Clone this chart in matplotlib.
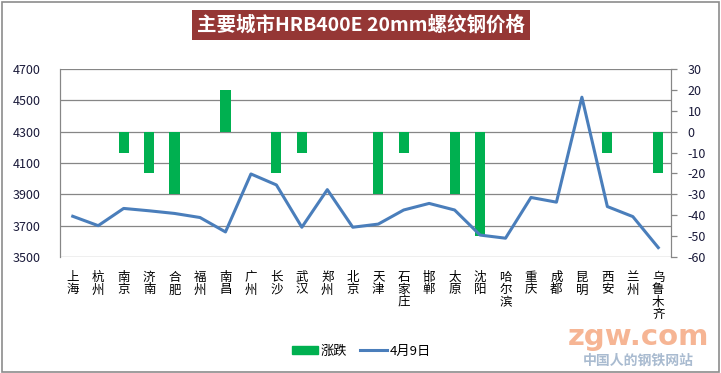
import matplotlib
matplotlib.use('Agg')
import matplotlib.pyplot as plt
from matplotlib.patches import Rectangle, Patch
from matplotlib.lines import Line2D

plt.rcParams['font.family'] = ['Noto Sans CJK SC', 'DejaVu Sans']
plt.rcParams['axes.unicode_minus'] = False

# 数据
cities = ['上海', '杭州', '南京', '济南', '合肥', '福州', '南昌', '广州', '长沙', '武汉',
          '郑州', '北京', '天津', '石家庄', '邯郸', '太原', '沈阳', '哈尔滨', '重庆', '成都',
          '昆明', '西安', '兰州', '乌鲁木齐']
change = [0, 0, -10, -20, -30, 0, 20, 0, -20, -10,
          0, 0, -30, -10, 0, -30, -50, 0, 0, 0,
          0, -10, 0, -20]
price = [3760, 3700, 3810, 3795, 3778, 3752, 3660, 4030, 3960, 3690,
         3930, 3690, 3710, 3800, 3842, 3800, 3640, 3620, 3880, 3850,
         4520, 3822, 3758, 3560]
left_ticks = [3500, 3700, 3900, 4100, 4300, 4500, 4700]
right_ticks = [-60, -50, -40, -30, -20, -10, 0, 10, 20, 30]

W, H = 721, 373
fig = plt.figure(figsize=(W / 100, H / 100), dpi=100)

# 外框
fig.patches.append(Rectangle((1.5 / W, 1.5 / H), 1 - 3.5 / W, 1 - 3.5 / H, transform=fig.transFigure,
                             fill=False, edgecolor='#8c8c8c', linewidth=1.2))

# 标题
fig.text(361 / W, 1 - 25 / H, '主要城市HRB400E 20mm螺纹钢价格', ha='center', va='center',
         color='white', fontsize=14, fontweight='bold',
         bbox=dict(boxstyle='square,pad=0.25', fc='#953735', ec='none'))

x0, x1, y0, y1 = 60, 671, 69, 257
ax_line = fig.add_axes([x0 / W, 1 - y1 / H, (x1 - x0) / W, (y1 - y0) / H])
ax_bar = ax_line.twinx()

x = list(range(len(cities)))

ax_line.set_ylim(3500, 4700)
ax_line.set_yticks(left_ticks)
ax_line.set_xlim(-0.5, len(cities) - 0.5)
ax_line.set_xticks(x)
ax_line.set_xticklabels(['\n'.join(c) for c in cities], fontsize=9, linespacing=0.95, va='top')
ax_line.grid(axis='y', color='#868686', linewidth=0.9)
ax_line.set_axisbelow(True)
ax_line.tick_params(axis='y', length=0, pad=14, labelsize=9, labelcolor='#1a1a3a')
ax_line.tick_params(axis='x', length=0, pad=10)

ax_bar.set_ylim(-60, 30)
ax_bar.set_yticks(right_ticks)
ax_bar.tick_params(axis='y', length=4, width=0.9, color='#868686', pad=8, labelsize=9, labelcolor='#1a1a3a')
ax_bar.bar(x, change, width=0.4, color='#00B050', zorder=2)
ax_bar.plot(x, price, color='#4A7EBB', linewidth=2.2, transform=ax_line.transData, zorder=3)

for a in (ax_line, ax_bar):
    for s in ('top', 'bottom'):
        a.spines[s].set_visible(False)
    a.spines['left'].set_color('#868686')
    a.spines['right'].set_color('#868686')

# 图例
handles = [Patch(color='#00B050'), Line2D([], [], color='#4A7EBB', linewidth=2.2)]
fig.legend(handles, ['涨跌', '4月9日'], loc='center', bbox_to_anchor=(361 / W, 1 - 351 / H),
           ncol=2, frameon=False, fontsize=9.5, handlelength=2.0, handleheight=0.5,
           columnspacing=1.0, handletextpad=0.2)

# 水印
fig.text(638 / W, 1 - 337 / H, 'zgw.com', ha='center', va='center', fontsize=21,
         fontweight='bold', color='#f5a882', alpha=0.85, family=['DejaVu Sans'])
fig.text(638 / W, 1 - 361 / H, '中国人的钢铁网站', ha='center', va='center', fontsize=10,
         fontweight='bold', color='#a9bbd0')

fig.savefig('out.png', dpi=100)
